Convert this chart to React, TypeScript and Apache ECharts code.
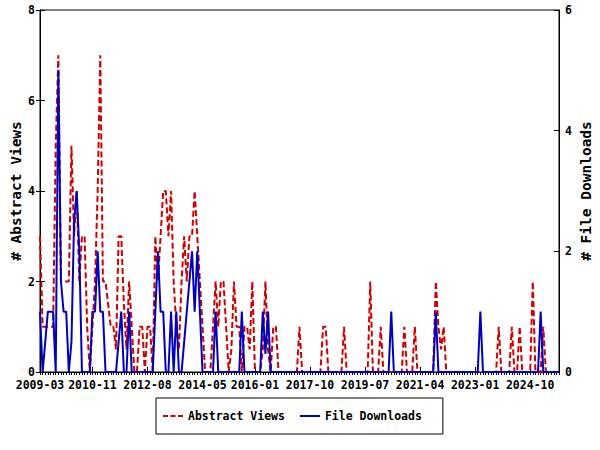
import React, { useEffect, useRef } from "react";
import * as echarts from "echarts";

// Months from 2009-03 (199 monthly categories)
const START_YEAR = 2009;
const START_MONTH = 3;
const MONTH_COUNT = 199;
const months: string[] = [];
for (let i = 0; i < MONTH_COUNT; i++) {
  const t = START_MONTH - 1 + i;
  const y = START_YEAR + Math.floor(t / 12);
  const m = (t % 12) + 1;
  months.push(`${y}-${String(m).padStart(2, "0")}`);
}

const tickLabels = [
  "2009-03", "2010-11", "2012-08", "2014-05", "2016-01",
  "2017-10", "2019-07", "2021-04", "2023-01", "2024-10",
];

const abstractViews = [
  3, 1, 1, 1, 1, 1, 5, 7, 2, 2,
  2, 2, 5, 3, 4, 2, 3, 3, 1, 0,
  1, 2, 4, 7, 2, 2, 1.5, 1, 1, 0.5,
  3, 3, 1.5, 0.5, 2, 1, 0, 0, 1, 1,
  0, 1, 1, 0, 3, 2, 3, 4, 4, 3,
  4, 2, 1, 0.5, 2, 3, 2, 3, 3, 4,
  3, 2, 1, 0, 0, 0, 1, 2, 1, 2,
  2, 1, 0, 0.5, 2, 1, 1, 0, 1, 1,
  0.5, 2, 0, 0, 0, 0.5, 2, 0.5, 0, 1,
  1, 0, 0, 0, 0, 0, 0, 0, 0, 1,
  0, 0, 0, 0, 0, 0, 0, 0, 1, 1,
  0, 0, 0, 0, 0, 0, 1, 0, 0, 0,
  0, 0, 0, 0, 0, 0, 2, 0, 0, 0,
  1, 0, 0, 0, 0, 0, 0, 0, 0, 1,
  0, 0, 0, 1, 0, 0, 0, 0, 0, 0,
  0, 2, 1, 0.5, 1, 0, 0, 0, 0, 0,
  0, 0, 0, 0, 0, 0, 0, 0, 0, 0,
  0, 0, 0, 0, 0, 1, 0, 0, 0, 0,
  1, 0, 0, 1, 0, 0, 0, 0, 2, 0,
  0, 0, 1, 0, 0, 0, 0, 0, 0,
];

const fileDownloads = [
  1, 0, 0.5, 1, 1, 1, 0, 5, 1.5, 1,
  1, 0, 0.5, 2.5, 3, 2, 0, 0, 0, 0,
  1, 1, 2, 1, 1, 0, 0, 0, 0, 0,
  0.5, 1, 0, 0, 1, 0, 0, 0, 0, 0,
  0, 0, 0, 0, 1, 2, 1, 1, 0, 0,
  1, 0, 1, 0, 0, 0.5, 1, 1.5, 2, 1,
  2, 1, 0, 0, 0, 0, 0, 1, 0, 0,
  0, 0, 0, 0, 0, 0, 0, 1, 0, 0,
  0, 0, 0, 0, 0, 1, 0.3, 1, 0, 0,
  0, 0, 0, 0, 0, 0, 0, 0, 0, 0,
  0, 0, 0, 0, 0, 0, 0, 0, 0, 0,
  0, 0, 0, 0, 0, 0, 0, 0, 0, 0,
  0, 0, 0, 0, 0, 0, 0, 0, 0, 0,
  0, 0, 0, 0, 1, 0, 0, 0, 0, 0,
  0, 0, 0, 0, 0, 0, 0, 0, 0, 0,
  0, 1, 0, 0, 0, 0, 0, 0, 0, 0,
  0, 0, 0, 0, 0, 0, 0, 0, 1, 0,
  0, 0, 0, 0, 0, 0, 0, 0, 0, 0,
  0, 0, 0, 0, 0, 0, 0, 0, 0, 0,
  0, 1, 0, 0, 0, 0, 0, 0, 0,
];

const FONT = "'DejaVu Sans Mono', 'Liberation Mono', monospace";
const RED = "#d00000";
const BLUE = "#0000c0";

export default function App() {
  const ref = useRef<HTMLDivElement>(null);
  useEffect(() => {
    if (!ref.current) return;
    const chart = echarts.init(ref.current, undefined, { renderer: "svg" });
    const majorIdx = tickLabels.map((l) => months.indexOf(l));
    const isMajor = (i: number) => majorIdx.includes(i);
    const black = "#000";
    const baseX = {
      type: "category" as const,
      data: months,
      boundaryGap: false,
      splitLine: { show: false },
    };
    chart.setOption({
      animation: false,
      backgroundColor: "#fff",
      grid: {
        left: 40, right: 41, top: 10, bottom: 78,
        outerBoundsMode: "none",
        containLabel: false,
        show: true, borderColor: black, borderWidth: 1,
      },
      legend: {
        left: 156, top: 398,
        padding: [12, 21, 12, 7],
        borderColor: black, borderWidth: 1,
        itemWidth: 20, itemHeight: 14, itemGap: 15,
        textStyle: { fontFamily: FONT, fontWeight: "bold", fontSize: 11.5, color: black },
        data: [
          { name: "Abstract Views", icon: "path://M0,0h5v2h-5z M7.5,0h5v2h-5z M15,0h5v2h-5z" },
          { name: "File Downloads", icon: "path://M0,0h20v2h-20z" },
        ],
      },
      xAxis: [
        {
          ...baseX,
          axisLine: { show: true, lineStyle: { color: black, width: 1 } },
          axisTick: { show: true, interval: 0, length: 3, lineStyle: { color: black } },
          axisLabel: {
            interval: (i: number) => isMajor(i),
            color: black, fontFamily: FONT, fontWeight: "bold", fontSize: 11.5, margin: 7,
          },
        },
        {
          ...baseX,
          axisLine: { show: false },
          axisTick: { show: true, interval: (i: number) => isMajor(i), length: 5, lineStyle: { color: black } },
          axisLabel: { show: false },
        },
        {
          ...baseX,
          axisLine: { show: false },
          axisTick: { show: true, inside: true, interval: (i: number) => isMajor(i), length: 3, lineStyle: { color: black } },
          axisLabel: { show: false },
        },
      ],
      yAxis: [
        {
          type: "value", position: "left", min: 0, max: 8, interval: 2,
          name: "# Abstract Views", nameLocation: "middle", nameRotate: 90, nameGap: 17,
          nameMoveOverlap: false,
          nameTextStyle: { fontFamily: FONT, fontWeight: "bold", fontSize: 14.5, color: black },
          axisLine: { show: true, lineStyle: { color: black } },
          axisTick: { show: true, length: 4, lineStyle: { color: black } },
          axisLabel: { color: black, fontFamily: FONT, fontWeight: "bold", fontSize: 11.5, margin: 5 },
          splitLine: { show: false },
        },
        {
          type: "value", position: "right", min: 0, max: 6, interval: 2,
          name: "# File Downloads", nameLocation: "middle", nameRotate: 90, nameGap: 19,
          nameMoveOverlap: false,
          nameTextStyle: { fontFamily: FONT, fontWeight: "bold", fontSize: 14.5, color: black },
          axisLine: { show: true, lineStyle: { color: black } },
          axisTick: { show: true, inside: true, length: 5, lineStyle: { color: black } },
          axisLabel: { color: black, fontFamily: FONT, fontWeight: "bold", fontSize: 11.5, margin: 6 },
          splitLine: { show: false },
        },
        {
          type: "value", position: "left", min: 0, max: 8, interval: 2,
          axisLine: { show: false },
          axisTick: { show: true, inside: true, length: 5, lineStyle: { color: black } },
          axisLabel: { show: false },
          splitLine: { show: false },
        },
      ],
      series: [
        {
          name: "Abstract Views", type: "line", xAxisIndex: 0, yAxisIndex: 0,
          data: abstractViews, symbol: "none",
          lineStyle: { color: RED, width: 2, type: [6, 3] },
          itemStyle: { color: RED },
        },
        {
          name: "File Downloads", type: "line", xAxisIndex: 0, yAxisIndex: 1,
          data: fileDownloads, symbol: "none",
          lineStyle: { color: BLUE, width: 2 },
          itemStyle: { color: BLUE },
        },
      ],
    });
    return () => chart.dispose();
  }, []);
  return (
    <div
      ref={ref}
      style={{ position: "fixed", left: 0, top: 0, width: 600, height: 450, background: "#fff" }}
    />
  );
}
